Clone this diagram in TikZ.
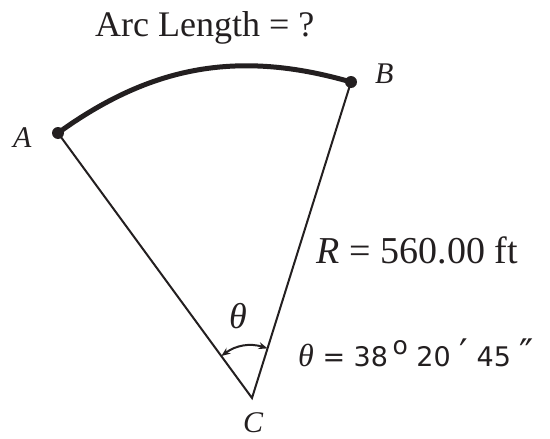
\documentclass[tikz,border=0pt]{standalone}
\usepackage{fontspec}
\setmainfont{Liberation Serif}
\newfontfamily\degfont{DejaVu Sans}
\usetikzlibrary{arrows.meta,calc}
\definecolor{inkc}{RGB}{35,31,32}

\begin{document}
\begin{tikzpicture}[x=1pt,y=-1pt,>={Stealth[length=9pt,width=7pt]},
 dot/.style={circle,fill=inkc,inner sep=0pt,minimum size=12pt},
 lbl/.style={inner sep=0pt,text=inkc,font=\fontsize{30}{34}\selectfont\itshape},
 big/.style={inner sep=0pt,text=inkc,font=\fontsize{36}{40}\selectfont}]
\useasboundingbox (0,0) rectangle (550,439);
\coordinate (A) at (58,133);
\coordinate (B) at (351,82);
\coordinate (C) at (252,398);
\coordinate (tA) at ($(C)!52pt!(A)$);
\coordinate (tB) at ($(C)!52pt!(B)$);
\draw[inkc,line width=2pt] (A) -- (C) -- (B);
\draw[inkc,line width=5pt] (A) to[bend left=26] (B);
\draw[inkc,line width=2pt,<->] (tA) to[bend left=27] (tB);
\node[dot] (dA) at (A) {};
\node[dot] (dB) at (B) {};
% labels
\node[big,anchor=base west] (title) at (95,37) {Arc Length = ?};
\node[lbl,anchor=base west] (lA) at (13,147) {A};
\node[lbl,anchor=base west] (lB) at (375,83) {B};
\node[lbl,anchor=base west] (lC) at (243,432) {C};
\node[big,anchor=base,font=\fontsize{36}{40}\selectfont\itshape] (th) at (238,328) {θ};
\node[big,anchor=base west,font=\fontsize{38}{42}\selectfont] (rad) at (316,263) {\textit{R}\hspace{10pt}=\hspace{10pt}560.00 ft};
\node[inner sep=0pt,text=inkc,anchor=base west] (ang) at (298,366)
 {{\fontsize{32}{36}\selectfont\itshape θ}\degfont\fontsize{27}{30}\selectfont{} = 38\,\raisebox{12pt}{\fontsize{25}{28}\selectfont o} 20 {\fontsize{38}{40}\selectfont ′} 45 {\fontsize{38}{40}\selectfont ″}};
\end{tikzpicture}
\end{document}
